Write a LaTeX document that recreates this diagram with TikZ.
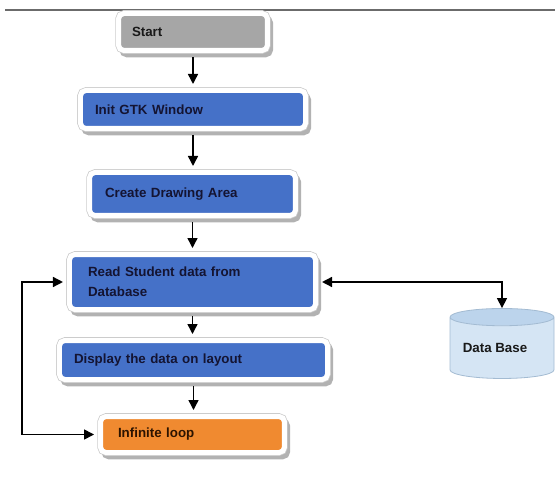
\documentclass[tikz,border=0pt]{standalone}
\usepackage{fontspec}
\setmainfont{Liberation Sans}
\usetikzlibrary{arrows.meta,shapes.geometric}
\definecolor{startgray}{HTML}{A6A6A6}
\definecolor{stepblue}{HTML}{4571C8}
\definecolor{looporange}{HTML}{F08A30}
\definecolor{dbbody}{HTML}{D5E5F4}
\definecolor{dbend}{HTML}{BCD4EC}
\definecolor{dbline}{HTML}{A3BBD2}
\begin{document}
\begin{tikzpicture}[x=0.75pt,y=-0.75pt,
  flowbox/.style={rectangle, rounded corners=4pt, draw=white, line width=3.75pt,
    preaction={draw=black!30, fill=black!30, line width=3.75pt,
      transform canvas={xshift=2.4pt,yshift=-3.3pt}},
    preaction={draw=black!20, line width=4.9pt},
    align=left, inner ysep=0pt, font=\bfseries\fontsize{10}{15}\selectfont},
  arr/.style={line width=1.1pt, -{Triangle[width=7.5pt,length=7.5pt]}},
  darr/.style={line width=1.1pt, {Triangle[width=7.5pt,length=7.5pt]}-{Triangle[width=7.5pt,length=7.5pt]}},
  topline/.style={draw=black!58, line width=1.3pt}]
\useasboundingbox (0,0) rectangle (555,491);
\draw[topline] (5,10) -- (555,10);

\node[flowbox, fill=startgray, text=black!90, minimum height=27.75pt, text width=91.5pt, inner xsep=10.1pt] (start) at (193,32) {Start};
\node[flowbox, fill=stepblue, text={rgb,255:red,20;green,20;blue,50}, minimum height=28.5pt, text width=147pt, inner xsep=10.9pt] (init) at (193,109.5) {Init GTK Window};
\node[flowbox, fill=stepblue, text={rgb,255:red,20;green,20;blue,50}, minimum height=32.25pt, text width=131.25pt, inner xsep=11.6pt] (create) at (192.5,194) {Create Drawing Area};
\node[flowbox, fill=stepblue, text={rgb,255:red,20;green,20;blue,50}, minimum height=41.25pt, text width=156.75pt, inner xsep=13.9pt] (read) at (192.5,282) {Read Student data from\\Database};
\node[flowbox, fill=stepblue, text={rgb,255:red,20;green,20;blue,50}, minimum height=29.25pt, text width=179.25pt, inner xsep=10.9pt] (display) at (193.5,360) {Display the data on layout};
\node[flowbox, fill=looporange, text={rgb,255:red,45;green,20;blue,0}, minimum height=27pt, text width=111.75pt, inner xsep=13.1pt] (inf) at (192.5,434.5) {Infinite loop};

\node[cylinder, shape border rotate=90, aspect=0.22, draw=dbline, line width=0.6pt,
  cylinder uses custom fill, cylinder body fill=dbbody, cylinder end fill=dbend,
  minimum width=78pt, minimum height=52.5pt, inner sep=0pt,
  font=\bfseries\fontsize{10}{12}\selectfont, text=black!90] (db) at (502,348) {Data Base\hspace*{10.5pt}};

\draw[arr, shorten <=3pt, shorten >=3pt] (start.south) -- (start.south |- init.north);
\draw[arr, shorten <=3pt, shorten >=3pt] (init.south) -- (init.south |- create.north);
\draw[arr, shorten <=3pt, shorten >=3pt] (create.south) -- (create.south |- read.north);
\draw[arr, shorten <=3pt, shorten >=3pt] (read.south) -- (read.south |- display.north);
\draw[arr, shorten <=3pt, shorten >=3pt] (display.south) -- (display.south |- inf.north);

\coordinate (loopc) at (22,434.5);
\draw[darr, shorten <=3pt, shorten >=3pt] (read.west) -| (loopc) -- (inf.west);
\draw[darr, shorten <=3pt] (read.east) -| (db.north);
\end{tikzpicture}
\end{document}
